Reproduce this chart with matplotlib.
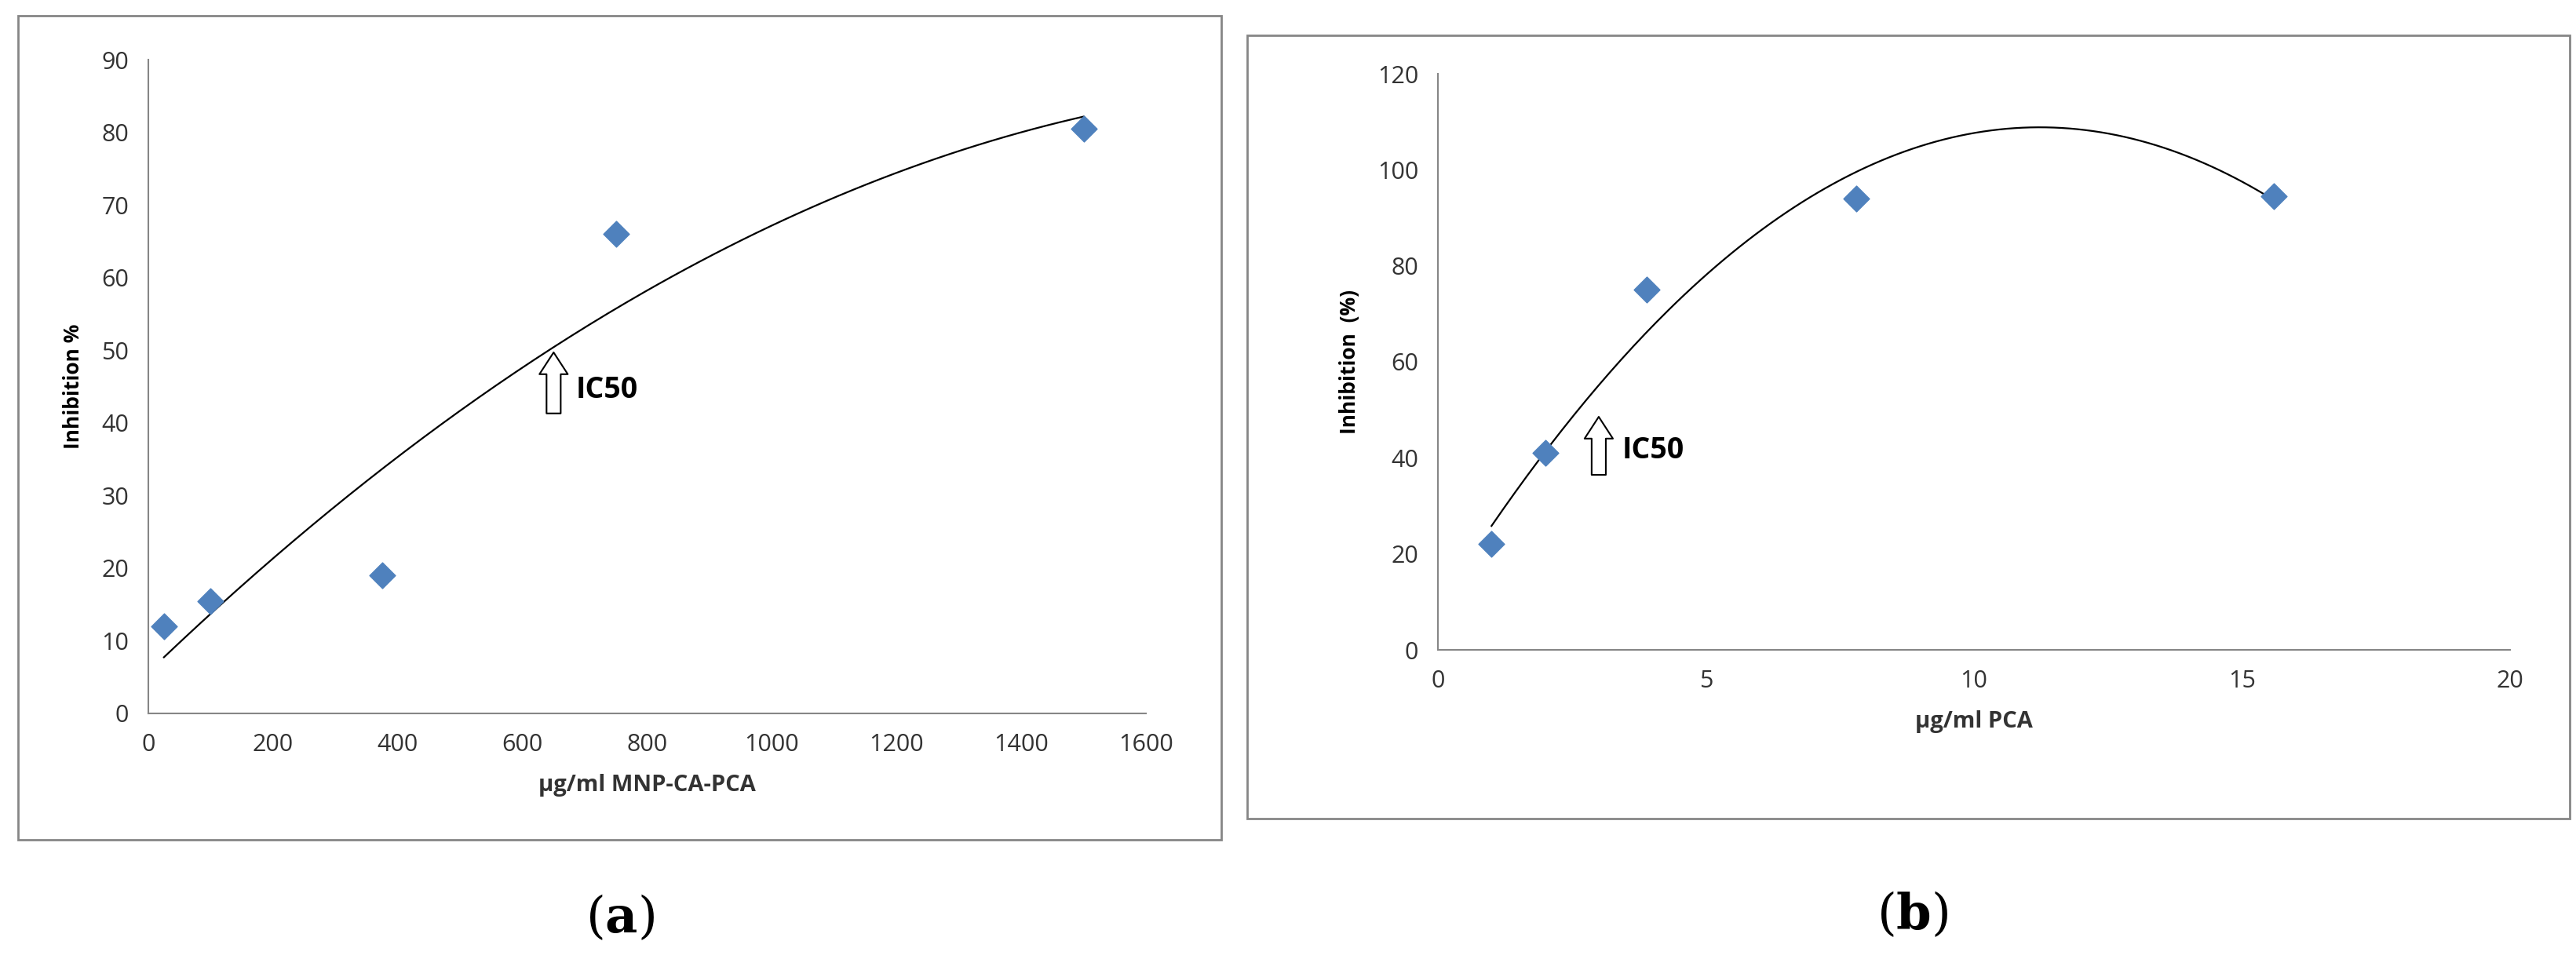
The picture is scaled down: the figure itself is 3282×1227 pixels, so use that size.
import matplotlib.pyplot as plt
import numpy as np
from matplotlib.patches import Rectangle

# panel (a)
xa = [25, 100, 375, 750, 1500]
ya = [12, 15.5, 19, 66, 80.5]
# panel (b)
xb = [1, 2, 3.9, 7.8, 15.6]
yb = [22, 41, 75, 94, 94.5]

W, H = 3282, 1227
fig = plt.figure(figsize=(W / 100, H / 100), dpi=100)
plt.rcParams['font.family'] = ['Open Sans', 'DejaVu Sans']
plt.rcParams['mathtext.fontset'] = 'dejavuserif'

GRAY = '#868686'
BLUE = '#4f81bd'


def frame(x0, y0, x1, y1):
    fig.patches.append(Rectangle((x0 / W, 1 - y1 / H), (x1 - x0) / W, (y1 - y0) / H,
                                 transform=fig.transFigure, fill=False,
                                 edgecolor=GRAY, lw=2))


def panel(rect, x, y, xlim, ylim, yticks, xticks, xlabel, ylabel, arrow, label_pos, tag):
    l, t, r, b = rect
    ax = fig.add_axes([l / W, 1 - b / H, (r - l) / W, (b - t) / H])
    p = np.polyfit(x, y, 2)
    xs = np.linspace(min(x), max(x), 200)
    ax.plot(xs, np.polyval(p, xs), color='black', lw=1.6)
    ax.scatter(x, y, marker='D', s=280, color=BLUE, zorder=3)
    ax.set_xlim(*xlim)
    ax.set_ylim(*ylim)
    ax.set_xticks(xticks)
    ax.set_yticks(yticks)
    for s in ('top', 'right'):
        ax.spines[s].set_visible(False)
    for s in ('left', 'bottom'):
        ax.spines[s].set_color(GRAY)
        ax.spines[s].set_linewidth(1.5)
    ax.tick_params(length=0, labelsize=22, pad=18, colors='#333333')
    ax.set_xlabel(xlabel, fontsize=21, fontweight='bold', color='#333333', labelpad=16)
    ax.set_ylabel(ylabel, fontsize=19, fontweight='bold', labelpad=16)
    ax_, ay0, ay1 = arrow
    ax.annotate('', xy=(ax_, ay1), xytext=(ax_, ay0),
                arrowprops=dict(arrowstyle='simple,head_width=2.6,head_length=2.0,tail_width=1.3',
                                facecolor='white', edgecolor='black', lw=1.5))
    ax.text(ax_ + (xlim[1] - xlim[0]) * 0.022, (ay0 + ay1) / 2 - 1, 'IC50',
            fontsize=27, fontweight='bold', va='center')
    fig.text(label_pos[0] / W, 1 - label_pos[1] / H, '($\\mathbf{%s}$)' % tag, fontsize=46,
             family='DejaVu Serif', ha='center', va='center')


frame(23, 20, 1556, 1070)
frame(1589, 45, 3274, 1043)

panel((189, 76, 1460, 909), xa, ya, (0, 1600), (0, 90), range(0, 91, 10),
      range(0, 1601, 200), 'µg/ml MNP-CA-PCA', 'Inhibition %',
      (650, 41, 50), (790, 1170), 'a')
panel((1832, 94, 3198, 828), xb, yb, (0, 20), (0, 120), range(0, 121, 20),
      range(0, 21, 5), 'µg/ml PCA', 'Inhibition  (%)',
      (3.0, 36, 49), (2437, 1166), 'b')

fig.savefig('out.png', dpi=100, facecolor='white')
